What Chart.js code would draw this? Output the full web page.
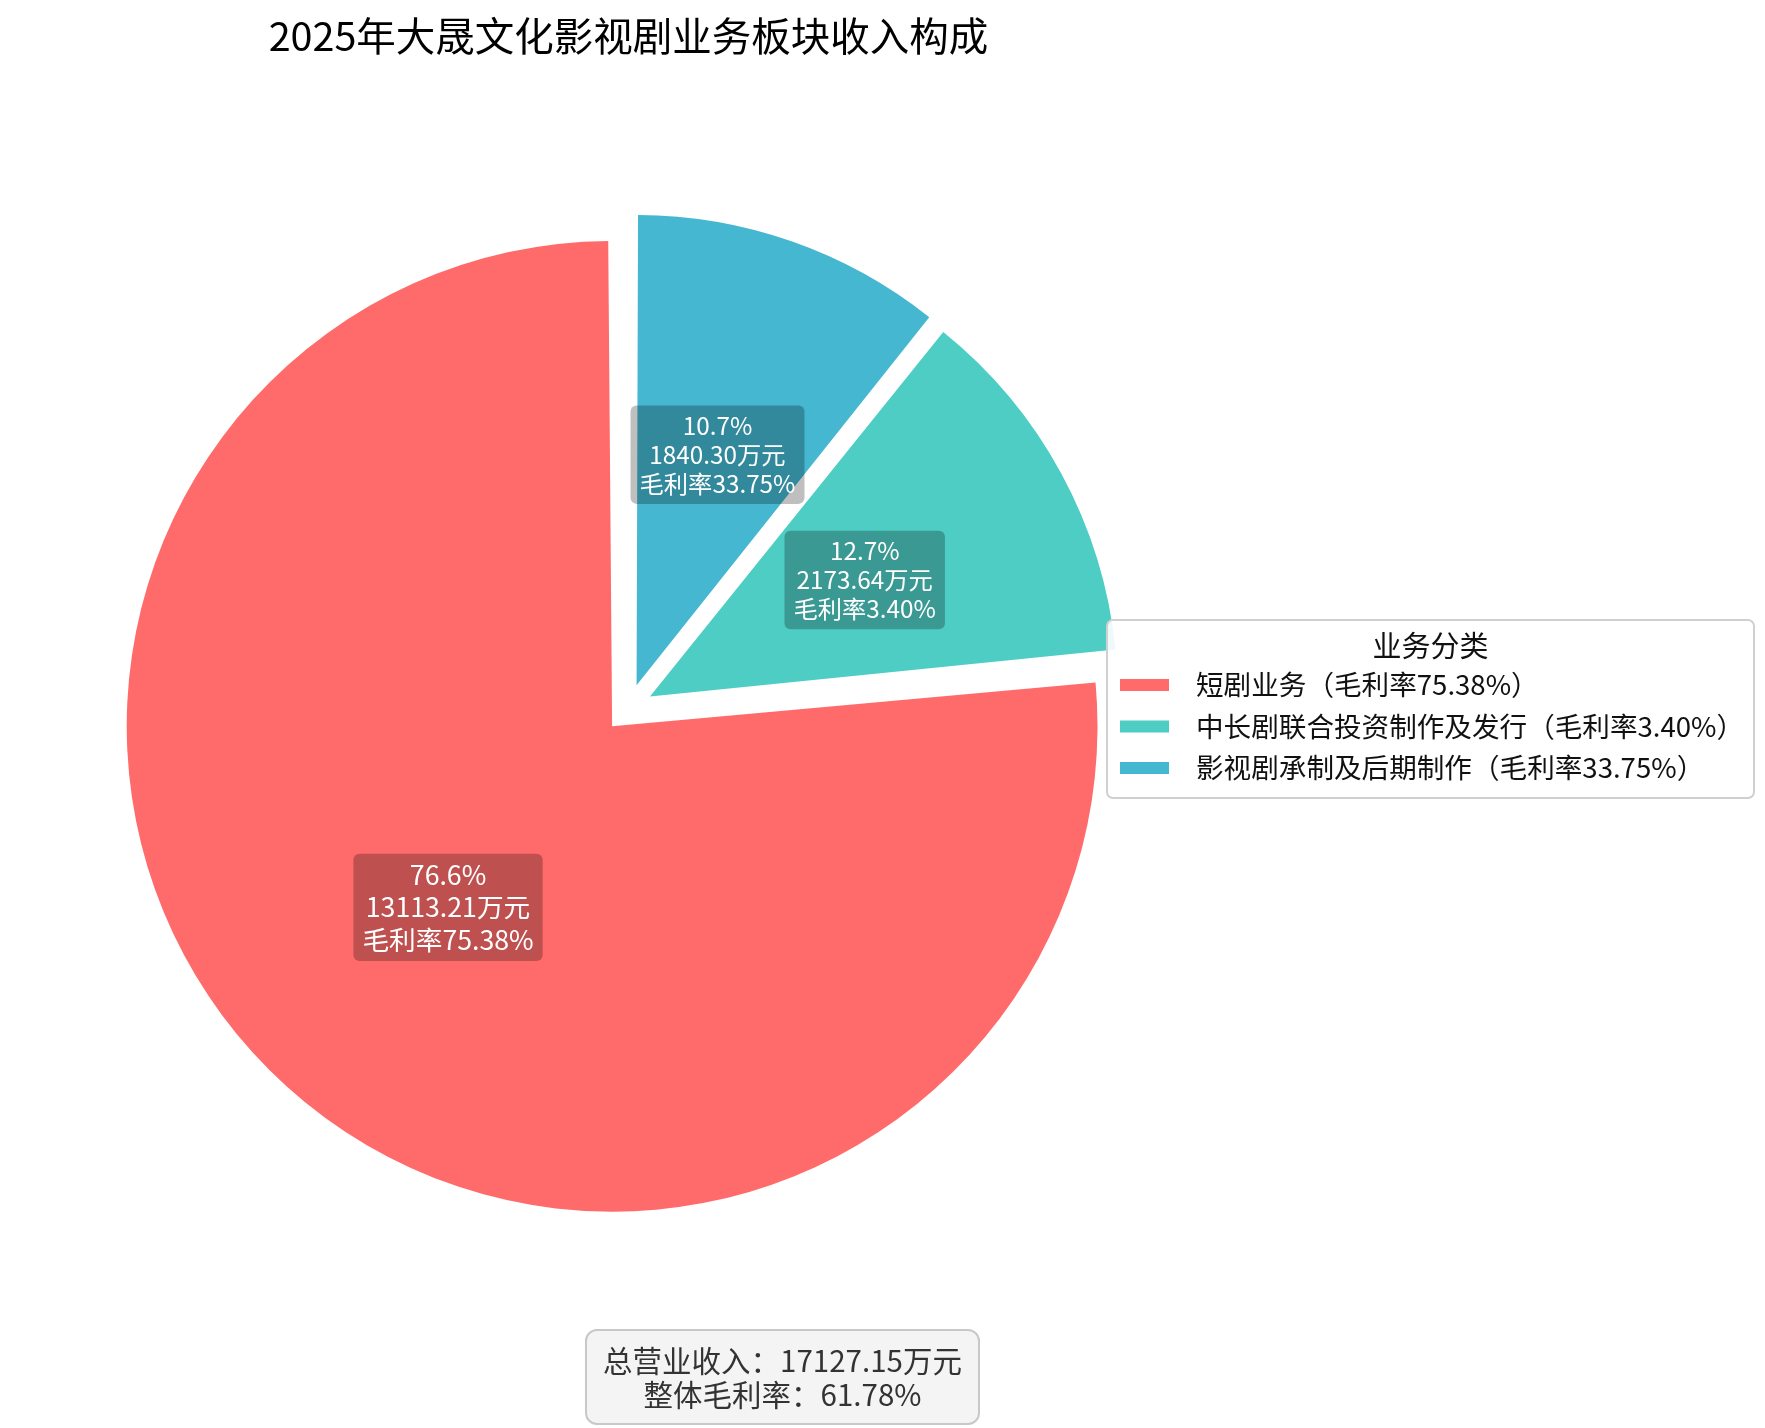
<!DOCTYPE html>
<html lang="zh-CN">
<head>
  <meta charset="UTF-8" />
  <title>2025年大晟文化影视剧业务板块收入构成</title>
  <script src="https://cdn.jsdelivr.net/npm/chart.js"></script>
  <style>
    html, body { margin: 0; padding: 0; background: #ffffff; }
    #wrap { width: 1765px; height: 1428px; position: relative; }
  </style>
</head>
<body>
  <div id="wrap"><canvas id="revenuePie"></canvas></div>

  <script>
    // data, in legend order
    const chartTitle = '2025年大晟文化影视剧业务板块收入构成';
    const legendTitle = '业务分类';
    const categories = ['短剧业务', '中长剧联合投资制作及发行', '影视剧承制及后期制作'];
    const revenue = [13113.21, 2173.64, 1840.30];      // 万元
    const grossMargin = [75.38, 3.40, 33.75];         // %
    const sliceColors = ['#FF6B6B', '#4ECDC4', '#45B7D1'];
    const totalRevenue = 17127.15;
    const overallMargin = 61.78;

    const FONT = '"Noto Sans CJK SC", "Noto Sans", sans-serif';
    const total = revenue.reduce((a, b) => a + b, 0);

    // chart.js draws clockwise from 12 o'clock, the original goes the other way
    const order = [2, 1, 0];

    const legendLabels = categories.map((c, i) => c + '（毛利率' + grossMargin[i].toFixed(2) + '%）');

    const sliceLabels = {
      id: 'sliceLabels',
      afterDatasetsDraw(chart) {
        const ctx = chart.ctx;
        const meta = chart.getDatasetMeta(0);
        meta.data.forEach((arc, j) => {
          const i = order[j];
          const p = arc.getProps(['x', 'y', 'startAngle', 'endAngle', 'outerRadius'], true);
          const mid = (p.startAngle + p.endAngle) / 2;
          const dist = arc.options.offset / 4 + 0.53 * p.outerRadius;
          const cx = p.x + Math.cos(mid) * dist;
          const cy = p.y + Math.sin(mid) * dist;

          const pct = revenue[i] / total * 100;
          const lines = [
            pct.toFixed(1) + '%',
            revenue[i].toFixed(2) + '万元',
            '毛利率' + grossMargin[i].toFixed(2) + '%'
          ];
          const fs = pct > 50 ? 26.7 : 24.3;
          const lh = fs * 1.2;
          ctx.save();
          ctx.font = fs + 'px ' + FONT;
          const w = Math.max(...lines.map(l => ctx.measureText(l).width)) + 18;
          const h = lines.length * lh + 11;
          ctx.fillStyle = 'rgba(0,0,0,0.25)';
          ctx.beginPath();
          ctx.roundRect(cx - w / 2, cy - h / 2, w, h, 6);
          ctx.fill();
          ctx.fillStyle = '#ffffff';
          ctx.textAlign = 'center';
          ctx.textBaseline = 'middle';
          lines.forEach((l, k) => {
            ctx.fillText(l, cx, cy + (k - (lines.length - 1) / 2) * lh);
          });
          ctx.restore();
        });
      }
    };

    const boxLegendAndNote = {
      id: 'boxLegendAndNote',
      afterDraw(chart) {
        const ctx = chart.ctx;
        ctx.save();

        // legend box
        const lx = 1107, ly = 620, lw = 647, lh = 178;
        ctx.fillStyle = 'rgba(255,255,255,0.9)';
        ctx.strokeStyle = '#d0d0d0';
        ctx.lineWidth = 2;
        ctx.beginPath();
        ctx.roundRect(lx, ly, lw, lh, 6);
        ctx.fill();
        ctx.stroke();

        ctx.fillStyle = '#111111';
        ctx.textBaseline = 'middle';
        ctx.textAlign = 'center';
        ctx.font = '29px ' + FONT;
        ctx.fillText(legendTitle, lx + lw / 2, ly + 26);

        ctx.textAlign = 'left';
        ctx.font = '27.6px ' + FONT;
        legendLabels.forEach((label, i) => {
          const y = ly + 65 + i * 41.5;
          ctx.fillStyle = sliceColors[i];
          ctx.fillRect(lx + 13, y - 6, 49, 12);
          ctx.fillStyle = '#111111';
          ctx.fillText(label, lx + 89, y);
        });

        // summary note
        const nx = 586, ny = 1330, nw = 393, nh = 94;
        ctx.fillStyle = '#f4f4f4';
        ctx.strokeStyle = '#c8c8c8';
        ctx.lineWidth = 2;
        ctx.beginPath();
        ctx.roundRect(nx, ny, nw, nh, 11);
        ctx.fill();
        ctx.stroke();

        ctx.fillStyle = '#333333';
        ctx.textAlign = 'center';
        ctx.font = '29.5px ' + FONT;
        ctx.fillText('总营业收入：' + totalRevenue.toFixed(2) + '万元', nx + nw / 2, 1361);
        ctx.fillText('整体毛利率：' + overallMargin.toFixed(2) + '%', nx + nw / 2, 1395);

        ctx.restore();
      }
    };

    const ctx = document.getElementById('revenuePie').getContext('2d');
    new Chart(ctx, {
      type: 'pie',
      data: {
        labels: order.map(i => legendLabels[i]),
        datasets: [{
          data: order.map(i => revenue[i]),
          backgroundColor: order.map(i => sliceColors[i]),
          borderWidth: 0,
          offset: 97.6,
          hoverOffset: 0,
          radius: 461
        }]
      },
      options: {
        responsive: true,
        maintainAspectRatio: false,
        animation: false,
        layout: { padding: { left: 0, right: 508, top: 0, bottom: 81 } },
        plugins: {
          legend: { display: false },
          tooltip: { enabled: false },
          title: {
            display: true,
            text: chartTitle,
            fullSize: false,
            color: '#000000',
            font: { family: FONT, size: 39.5, weight: 'normal' },
            padding: { top: 12, bottom: 10 }
          }
        }
      },
      plugins: [sliceLabels, boxLegendAndNote]
    });
  </script>
</body>
</html>
